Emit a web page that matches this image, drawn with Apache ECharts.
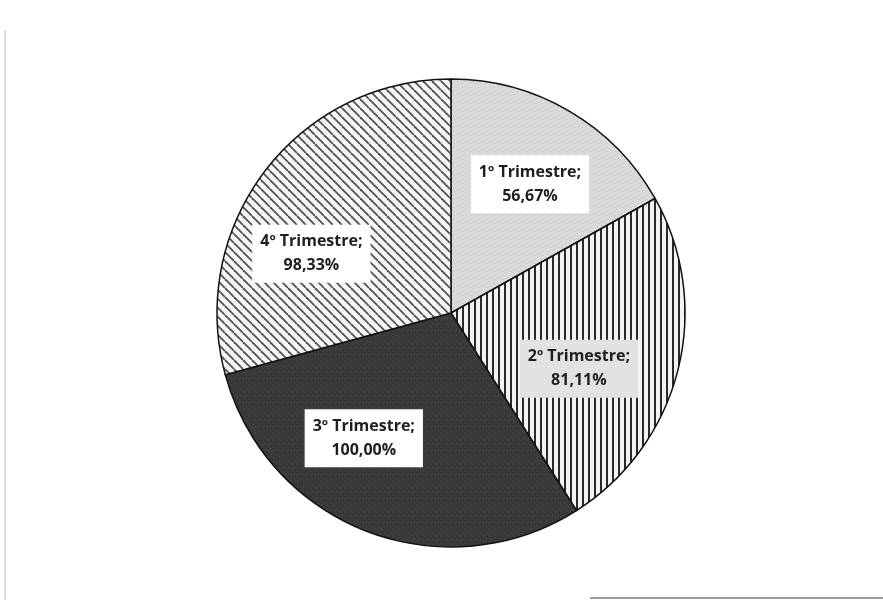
<!DOCTYPE html>
<html>
<head>
<meta charset="utf-8">
<script src="https://cdn.jsdelivr.net/npm/echarts@6/dist/echarts.min.js"></script>
<style>
html,body{margin:0;padding:0;background:#fff;}
#main{width:883px;height:603px;}
</style>
</head>
<body>
<div id="main"></div>
<script>
const categories = ['1º Trimestre', '2º Trimestre', '3º Trimestre', '4º Trimestre'];
const values = [56.67, 81.11, 100.00, 98.33];
const valueLabels = ['56,67%', '81,11%', '100,00%', '98,33%'];

function makePattern(kind) {
  const c = document.createElement('canvas');
  const ctx = c.getContext('2d');
  if (kind === 'dots') {
    c.width = 8; c.height = 8;
    ctx.fillStyle = '#dadada'; ctx.fillRect(0, 0, 8, 8);
    ctx.fillStyle = '#c0c0c0';
    ctx.fillRect(1, 1, 1, 1); ctx.fillRect(5, 3, 1, 1); ctx.fillRect(2, 6, 1, 1); ctx.fillRect(6, 7, 1, 1);
    ctx.fillStyle = '#ebebeb';
    ctx.fillRect(3, 2, 1, 1); ctx.fillRect(7, 5, 1, 1);
  } else if (kind === 'vert') {
    c.width = 6; c.height = 6;
    ctx.fillStyle = '#f4f4f4'; ctx.fillRect(0, 0, 6, 6);
    ctx.fillStyle = '#2a2a2a'; ctx.fillRect(0, 0, 2, 6);
  } else if (kind === 'dark') {
    c.width = 6; c.height = 6;
    ctx.fillStyle = '#3a3a3a'; ctx.fillRect(0, 0, 6, 6);
    ctx.fillStyle = '#2c2c2c'; ctx.fillRect(1, 2, 1, 1); ctx.fillRect(4, 4, 1, 1);
    ctx.fillStyle = '#4a4a4a'; ctx.fillRect(3, 0, 1, 1); ctx.fillRect(0, 5, 1, 1);
  } else if (kind === 'diag') {
    const s = 9;
    c.width = s; c.height = s;
    ctx.fillStyle = '#f6f6f6'; ctx.fillRect(0, 0, s, s);
    ctx.strokeStyle = '#505050'; ctx.lineWidth = 1.8;
    for (let k = -1; k <= 1; k++) {
      ctx.beginPath();
      ctx.moveTo(k * s, 0); ctx.lineTo(k * s + s, s);
      ctx.stroke();
    }
  }
  return { image: c, repeat: 'repeat' };
}

const fills = [makePattern('dots'), makePattern('vert'), makePattern('dark'), makePattern('diag')];
const labelBg = ['#ffffff', '#e2e2e2', '#ffffff', '#ffffff'];
// small nudges of the inside labels, as placed in the original
const labelNudge = [[3, 1], [-18, 19], [-33, -15], [-20, 32]];

const chart = echarts.init(document.getElementById('main'));
const R = 234;

chart.setOption({
  backgroundColor: '#ffffff',
  animation: false,
  graphic: [
    { type: 'line', shape: { x1: 5, y1: 30, x2: 5, y2: 600 }, style: { stroke: '#cfcfcf', lineWidth: 1.5 } },
    { type: 'line', shape: { x1: 590, y1: 598, x2: 883, y2: 598 }, style: { stroke: '#9a9a9a', lineWidth: 2 } }
  ],
  series: [
    {
      type: 'pie',
      center: [451, 313],
      radius: [0, R],
      startAngle: 90,
      clockwise: true,
      silent: true,
      label: { show: false },
      labelLine: { show: false },
      itemStyle: { borderColor: '#111', borderWidth: 1.5 },
      data: categories.map((name, i) => ({ name: name, value: values[i], itemStyle: { color: fills[i] } }))
    },
    {
      type: 'pie',
      center: [451, 313],
      radius: [R * 0.26, R],
      startAngle: 90,
      clockwise: true,
      silent: true,
      itemStyle: { color: 'rgba(0,0,0,0)', borderWidth: 0 },
      labelLine: { show: false },
      labelLayout: function (p) {
        const n = labelNudge[p.dataIndex];
        return { dx: n[0], dy: n[1] };
      },
      label: {
        show: true,
        position: 'inside',
        fontFamily: 'Open Sans',
        fontWeight: 'bold',
        fontSize: 16,
        lineHeight: 24,
        color: '#1e1e1e',
        padding: [5, 8, 5, 8],
        formatter: function (p) { return p.name + ';\n' + valueLabels[p.dataIndex]; }
      },
      data: categories.map((name, i) => ({ name: name, value: values[i], label: { backgroundColor: labelBg[i] } }))
    }
  ]
});
</script>
</body>
</html>
